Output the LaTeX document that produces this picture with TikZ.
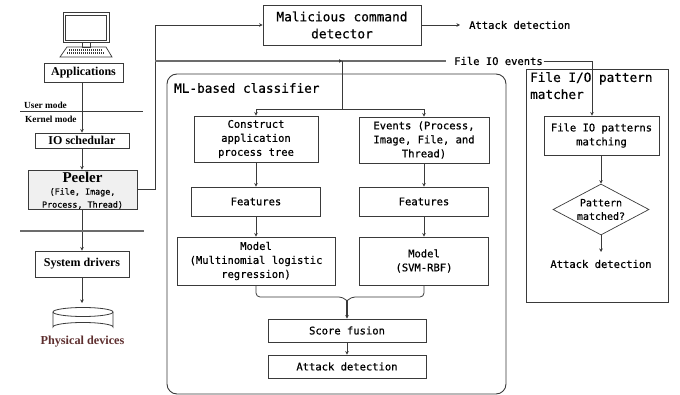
\documentclass[tikz,border=0pt]{standalone}
\usepackage{fontspec}
\setmainfont{Liberation Serif}
\setmonofont[RawFeature={embolden=0.6}]{DejaVu Sans Mono}
\usetikzlibrary{arrows.meta,shapes.geometric}
\definecolor{linec}{HTML}{3A3A3A}
\definecolor{brownc}{HTML}{5E2F2F}
\tikzset{
  bx/.style={draw=linec,line width=0.9pt,inner sep=0pt,align=center,font=\ttfamily\fontsize{10.5}{14}\selectfont},
  sbx/.style={draw=linec,line width=0.9pt,inner sep=0pt,align=center,font=\bfseries\fontsize{12}{14}\selectfont},
  txt/.style={inner sep=0pt,align=center,font=\ttfamily\fontsize{10.5}{14}\selectfont},
  lbl/.style={inner sep=0pt,font=\bfseries\fontsize{9.3}{10}\selectfont},
  title/.style={inner sep=0pt,align=left,font=\ttfamily\fontsize{12.7}{17}\selectfont},
  con/.style={draw=linec,line width=0.8pt},
  arr/.style={con,-{Stealth[length=3.5pt,width=3.5pt]}},
  gline/.style={draw=gray!85!black,line width=1.2pt}
}
\begin{document}
\begin{tikzpicture}[x=1pt,y=-1pt]
\useasboundingbox (0,0) rectangle (680,395);
% computer
\draw[line width=0.8pt,draw=linec] (63,12) rectangle (109,42);
\draw[line width=0.6pt,draw=linec] (65,15) rectangle (106,40);
\draw[line width=0.7pt,draw=linec] (82,42) rectangle (90,47);
\draw[line width=0.7pt,draw=linec] (67,47) -- (106,47) -- (112,57) -- (60,57) -- cycle;
\draw[line width=1.4pt,draw=linec,dash pattern=on 1.2pt off 0.8pt] (69,50) -- (102,50);
\draw[line width=1.4pt,draw=linec,dash pattern=on 1.2pt off 0.8pt] (67,53) -- (104,53);
% left column
\node[sbx,minimum width=79pt,minimum height=19pt] (apps) at (83.5,72.5) {Applications};
\node[sbx,minimum width=94pt,minimum height=15pt] (io) at (82,140.5) {IO schedular};
\node[draw=linec,line width=0.9pt,fill=black!6,inner sep=0pt,minimum width=109pt,minimum height=39pt] (peeler) at (82.5,189.5) {};
\node[inner sep=0pt,font=\bfseries\fontsize{15}{16}\selectfont] (peelert) at (82.5,177) {Peeler};
\node[txt,font=\ttfamily\fontsize{8.4}{13}\selectfont] (peelers) at (82.5,198.5) {(File, Image,\\Process, Thread)};
\node[sbx,minimum width=94pt,minimum height=26pt] (sys) at (82,264) {System drivers};
\coordinate (ul) at (20,111); \coordinate (ur) at (143,111);
\coordinate (ll) at (20,231); \coordinate (lr) at (144,231);
\draw[con,line width=0.7pt] (ul) -- (ur);
\node[lbl,anchor=west] (um) at (24,105) {User mode};
\node[lbl,anchor=west] (km) at (25,119) {Kernel mode};
\draw[arr] (apps.south -| io.north) -- (io.north);
\draw[arr] (io.south) -- (io.south |- peeler.north);
\draw[arr] (peeler.south -| sys.north) -- (sys.north);
\draw[gline] (ll) -- (lr);
% cylinder
\coordinate (cyl) at (83,303);
\draw[line width=0.8pt,draw=linec] (53,312) arc[start angle=180,end angle=360,x radius=30pt,y radius=-4.5pt];
\draw[line width=0.8pt,draw=linec] (53,312) arc[start angle=180,end angle=0,x radius=30pt,y radius=-4.5pt];
\draw[line width=0.8pt,draw=linec] (53,312) -- (53,327) arc[start angle=180,end angle=0,x radius=30pt,y radius=4.5pt] -- (113,312);
\draw[arr] (sys.south) -- (sys.south |- cyl);
\node[inner sep=0pt,text=brownc,font=\bfseries\fontsize{12.2}{14}\selectfont] (phys) at (82.5,342) {Physical devices};
% malicious
\node[draw=linec,line width=0.9pt,inner sep=0pt,align=center,minimum width=158pt,minimum height=40pt,font=\ttfamily\fontsize{12.8}{17}\selectfont] (mal) at (342,25) {Malicious command\\detector};
\node[txt,anchor=west] (att1) at (469,25) {Attack detection};
\draw[arr] (mal.east) -- (460,25);
\coordinate (pv) at (155,61);
\draw[con] (peeler.east) -| (pv);
\draw[arr] (pv) |- (mal.west);
\node[txt] (fio) at (498.5,61) {File IO events};
\coordinate (gr) at (446,61);
\coordinate (junc) at (342,61);
\draw[gline] (pv) -- (gr);
\fill[linec] (342,61) -- (339,59.2) -- (339,62.8) -- cycle;
% ML
\node[draw=linec,line width=0.9pt,rounded corners=10pt,inner sep=0pt,minimum width=339pt,minimum height=320pt] (ml) at (336.5,234) {};
\node[title,anchor=west] (mlt) at (174,88) {ML-based classifier};
\node[bx,minimum width=124pt,minimum height=46pt] (cons) at (256,139) {Construct\\application\\process tree};
\node[bx,minimum width=130pt,minimum height=46pt] (ev) at (424,140) {Events (Process,\\Image, File, and\\Thread)};
\node[bx,minimum width=129pt,minimum height=29pt] (f1) at (256,201.5) {Features};
\node[bx,minimum width=129pt,minimum height=29pt] (f2) at (424,201.5) {Features};
\node[bx,minimum width=158pt,minimum height=48pt] (m1) at (256,261) {Model\\(Multinomial logistic\\regression)};
\node[bx,minimum width=129pt,minimum height=48pt] (m2) at (424,261) {Model\\(SVM-RBF)};
\node[bx,minimum width=158pt,minimum height=23pt] (sf) at (347,330.5) {Score fusion};
\node[bx,minimum width=158pt,minimum height=23pt] (ad) at (347,366.5) {Attack detection};
\coordinate (split) at (342,109);
\draw[con] (junc) -- (split);
\draw[arr] (split) -| (cons.north);
\draw[arr] (split) -| (ev.north);
\draw[arr] (cons.south) -- (f1.north);
\draw[arr] (ev.south) -- (f2.north);
\draw[arr] (f1.south) -- (m1.north);
\draw[arr] (f2.south) -- (m2.north);
\draw[con,rounded corners=4pt] (m1.south) -- (256,297) -- (343,297) -- (347,301);
\draw[con,rounded corners=4pt] (m2.south) -- (424,297) -- (351,297) -- (347,301);
\coordinate (mrg) at (347,300);
\draw[arr,line width=1.1pt] (mrg) -- (sf.north);
\draw[arr] (sf.south) -- (ad.north);
% file IO matcher
\node[draw=linec,line width=0.9pt,inner sep=0pt,minimum width=142pt,minimum height=233pt] (fm) at (597,185.5) {};
\node[title,anchor=north west] (fmt) at (530,72) {File I/O pattern\\matcher};
\node[bx,minimum width=115pt,minimum height=39pt] (pat) at (601.5,135.5) {File IO patterns\\matching};
\node[diamond,draw=linec,line width=0.7pt,aspect=1.88,inner sep=0pt,minimum width=96pt,minimum height=51pt] (dia) at (601,209.5) {};
\node[txt,font=\ttfamily\fontsize{10}{13.5}\selectfont] (diat) at (601,209.5) {Pattern\\matched?};
\node[txt] (att2) at (601,264) {Attack detection};
\coordinate (fe) at (543.5,61);
\draw[arr] (fe) -| (pat.north -| 592,0);
\draw[arr] (pat.south -| dia.north) -- (dia.north);
\draw[arr] (dia.south) -- (601,252);
\end{tikzpicture}
\end{document}
